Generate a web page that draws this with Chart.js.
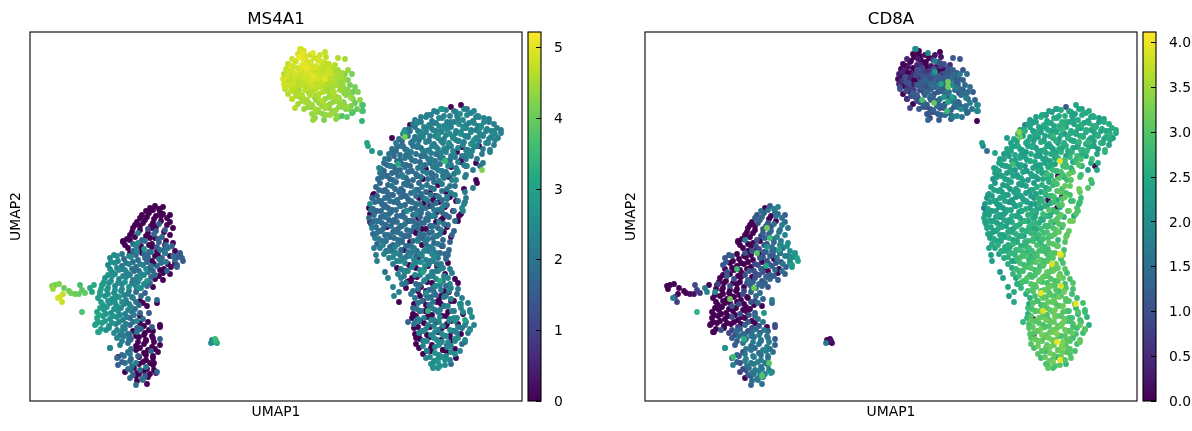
<!DOCTYPE html>
<html>
<head>
<meta charset="utf-8">
<script src="https://cdn.jsdelivr.net/npm/chart.js@4/dist/chart.umd.min.js"></script>
<style>
  html, body { margin: 0; padding: 0; background: #fff; }
  canvas { position: absolute; top: 0; }
</style>
</head>
<body>
<canvas id="panel-a" width="552" height="431" style="left:0"></canvas>
<canvas id="panel-b" width="552" height="431" style="left:615px"></canvas>
<canvas id="bar-a" width="60" height="431" style="left:525px"></canvas>
<canvas id="bar-b" width="52" height="431" style="left:1140px"></canvas>
<script>
// Embedding positions and expression, one cluster at a time
const topX = [
  270,274,
  268,275,283,290,295,
  262,269,276,284,290,296,
  258,265,272,279,286,293,299,305,
  256,263,270,277,284,291,298,305,318,
  254,261,268,276,283,290,297,304,312,
  253,260,267,274,281,288,295,303,310,318,
  254,261,268,275,282,289,296,303,311,320,
  255,262,269,276,283,290,297,304,311,318,325,
  258,265,272,279,286,293,300,307,314,321,328,
  262,270,277,285,292,299,306,313,321,330,
  268,275,282,289,296,303,310,317,325,333,
  274,281,288,295,302,309,316,323,332,
  282,289,296,303,312,322,
  285,294,306
];
const topY = [
  352,350,
  347,345,348,346,349,
  342,344,341,343,340,344,
  337,339,336,338,335,339,337,336,
  332,334,331,333,330,334,332,329,331,
  327,329,326,328,325,329,327,324,328,
  322,324,321,323,320,324,322,319,323,321,
  317,319,316,318,315,319,317,314,318,316,
  312,314,311,313,310,314,312,309,313,311,314,
  307,309,306,308,305,309,307,304,308,306,309,
  302,304,301,303,300,304,302,299,303,301,
  297,299,296,298,295,299,297,294,298,296,
  292,294,291,293,290,294,292,289,290,
  287,289,286,288,285,288,
  283,281,282
];
const topMs4a1 = [
  4.9,4.9,
  4.8,4.9,5,4.8,4.7,
  4.8,5.1,4.9,4.8,4.9,4.7,
  4.7,4.8,5,4.8,4.9,4.8,4.7,4.6,
  4.8,4.7,4.9,5.1,4.8,4.7,4.8,4.5,4.4,
  4.6,4.8,4.8,4.9,5,4.7,4.8,4.6,4.5,
  4.9,4.6,4.7,4.8,4.9,4.8,5,4.6,4.5,4.2,
  4.8,4.7,4.6,4.7,4.8,4.7,4.6,4.5,4.3,4.1,
  4.6,4.7,4.5,4.7,4.6,4.7,4.5,4.6,4.4,4.3,4.1,
  4.6,4.5,4.6,4.4,4.5,4.6,4.4,4.5,4.3,4.2,4.2,
  4.5,4.4,4.5,4.4,4.6,4.4,4.5,4.3,4.4,4.3,
  4.5,4.5,4.4,4.4,4.5,4.3,4.4,4.4,4,3.7,
  4.4,4.3,4.4,4.5,4.4,4.3,4.2,3.8,3.7,
  4.4,4.3,4.4,4.4,3.7,3.6,
  4.3,4.2,4.3
];
const topCd8a = [
  2,0,
  0,0,1.9,0.2,0,
  0.4,0,0,0,1.7,0.2,
  0,0,0.4,0,0.2,0.9,1,0.5,
  0,0.2,0,0.9,0.6,0.2,0,1,1.1,
  0.3,0,0.5,0.9,1,2.1,0.8,1.1,1.2,
  0.1,1,0,0.6,1.3,1,1.2,3.2,1.2,1.3,
  0.5,1,0.3,1.2,0.9,1.4,2.4,3.2,1.1,1.4,
  1,0.4,0.8,1.2,1,1.3,1,1.4,1.8,1.2,1.5,
  0,0.4,1.2,0.9,1.4,1.1,1.3,2.3,1.1,1.5,1.2,
  0.6,1.1,2.9,1.2,1,2.1,1.3,1.2,1.7,1.3,
  0,0.9,1.1,3.1,1.3,2.4,1.4,1.2,1.8,1.9,
  1.2,1,1.3,1,2.8,1.2,2,1.4,1.7,
  1.1,1,1.2,1.4,1.9,1.3,
  0.9,1.2,1.1
];
const topFillX = [
  272,280,288,
  266,273,281,288,295,
  261,268,275,282,289,296,303,
  258,265,272,280,287,294,301,308,
  257,264,271,278,285,292,299,307,314,
  257,264,271,278,285,292,299,306,313,
  258,265,272,279,286,293,300,307,315,
  261,268,275,282,289,296,303,310,317,
  266,273,280,288,295,302,309,316,323,
  272,279,286,293,300,307,314,321,
  278,285,292,299,306,313,320,
  286,293,300,307,317
];
const topFillY = [
  348,346,343,
  340,342,339,341,338,
  335,333,336,334,332,335,333,
  330,328,331,329,327,330,328,331,
  325,323,326,324,322,325,323,326,322,
  320,318,321,319,317,320,318,321,317,
  315,313,316,314,312,315,313,316,312,
  310,308,311,309,307,310,308,311,307,
  305,303,306,304,302,305,303,306,302,
  300,298,301,299,297,300,298,295,
  294,292,295,293,291,294,292,
  289,287,286,285,284
];
const topFillMs4a1 = [
  5,4.8,4.9,
  4.8,5,4.9,4.8,4.7,
  4.9,4.8,5,4.9,4.8,4.7,4.6,
  4.8,4.9,4.8,4.9,4.8,4.7,4.8,4.5,
  4.9,4.8,4.7,4.8,4.9,4.8,4.6,4.5,4.4,
  4.7,4.8,4.7,4.8,4.7,4.8,4.6,4.5,4.4,
  4.8,4.7,4.7,4.6,4.7,4.6,4.5,4.5,4.3,
  4.7,4.6,4.7,4.6,4.6,4.5,4.6,4.4,4.3,
  4.6,4.5,4.6,4.5,4.4,4.5,4.4,4.3,4.2,
  4.5,4.5,4.4,4.5,4.4,4.4,4.3,4.2,
  4.4,4.5,4.4,4.3,4.4,4.3,4.1,
  4.4,4.3,4.4,4.3,3.9
];
const topFillCd8a = [
  0,0.2,0,
  0,0.3,0,0.9,1,
  0,0,0.5,0,1.1,0.8,1,
  0.4,0,1,0.6,1.2,0,1.1,1.2,
  0,0.5,0.9,1.1,0.8,1.3,1.2,1.4,1.3,
  0.6,1,0,1.2,1.4,1,1.3,1.5,1.2,
  0,0.8,1.2,1,1.3,1.5,1.2,2,1.4,
  0.9,1.2,0.7,1.4,1.1,1.3,1.6,1.2,1.5,
  1,0.6,1.3,1.2,1.5,1.1,1.7,1.3,1.4,
  1.1,1.3,1,1.4,1.2,1.7,1.3,1.6,
  1.2,1,1.4,1.1,1.3,1.5,1.4,
  1,1.3,1.5,1.2,1.6
];

const bigX = [
  412,421,431,437,
  397,407,414,424,430,441,448,
  385,396,402,412,417,427,433,443,449,459,
  380,388,394,403,409,418,424,433,439,448,454,464,
  375,385,391,401,406,416,421,431,436,446,451,461,467,
  373,380,390,396,405,411,420,426,435,441,450,456,465,471,
  369,378,384,393,399,408,414,423,429,438,444,453,459,468,
  366,373,382,388,398,403,413,419,428,433,443,449,458,464,
  362,371,377,387,393,402,408,417,423,432,438,447,453,460,
  359,366,376,381,391,396,406,411,421,427,436,442,452,
  355,364,370,380,385,395,401,410,416,425,431,441,447,
  354,361,370,376,385,391,400,406,416,421,431,437,446,
  351,360,366,375,381,391,396,406,411,421,427,436,443,
  350,357,366,372,382,387,397,402,412,418,428,436,
  348,357,363,373,378,388,393,403,409,419,426,435,
  346,355,362,371,377,386,392,401,408,417,425,434,
  344,353,360,369,376,385,391,400,407,416,425,435,
  342,351,358,367,373,381,389,396,405,412,420,428,436,
  340,349,355,364,371,379,386,394,402,409,417,426,434,
  339,347,354,362,370,377,385,392,400,408,415,424,432,
  340,346,355,361,371,376,386,391,401,407,416,423,431,
  339,348,355,364,372,380,388,396,403,411,419,428,
  341,347,356,363,371,379,387,394,402,409,418,425,
  342,349,357,365,372,381,388,396,403,411,417,424,
  343,351,358,367,375,383,390,399,406,414,422,
  345,352,360,368,376,383,392,398,407,413,421,
  347,355,363,372,380,388,396,404,412,420,
  350,356,365,371,381,387,397,403,413,419,
  354,362,370,378,386,394,402,410,418,
  359,367,376,384,392,400,408,416,
  363,370,379,387,395,403,411,418,
  367,374,382,390,398,406,413,420,
  368,377,385,393,400,408,415,422,
  371,379,387,395,403,410,418,425,
  373,381,390,397,405,413,420,428,
  376,383,391,399,406,414,421,428,
  381,388,396,404,411,419,427,
  385,393,401,409,416,424,432,
  384,392,399,407,414,421,430,438,
  383,390,398,405,414,422,431,440,
  383,391,399,408,416,424,433,440,
  382,389,397,404,412,419,427,435,442,
  384,391,398,406,413,421,428,436,444,
  384,392,400,408,416,424,432,440,
  385,393,401,408,416,423,431,438,
  386,393,400,407,414,421,428,435,
  386,394,402,409,417,425,432,
  389,397,405,413,421,430,
  393,401,409,417,425,
  396,404,412,420,
  401,408,415,
  403,410
];
const bigY = [
  292,294,296,292,
  286,289,285,290,287,288,285,
  281,284,280,283,279,285,281,280,284,282,
  276,279,274,278,275,277,279,274,278,275,279,277,
  271,274,269,273,270,272,274,269,273,271,274,270,273,
  267,270,266,269,265,270,267,268,265,269,266,270,267,268,
  262,265,261,264,260,265,262,263,260,264,261,265,262,263,
  258,255,259,256,260,255,258,257,260,256,259,255,258,256,
  252,255,251,254,250,255,252,253,250,254,251,255,252,251,
  247,250,246,249,245,250,247,248,245,249,246,250,247,
  242,245,241,244,240,245,242,243,240,244,241,245,242,
  238,235,239,236,240,235,238,237,240,236,239,235,238,
  232,235,231,234,230,235,232,233,230,234,231,235,231,
  228,225,229,226,230,225,228,227,230,226,229,226,
  222,225,221,224,220,225,222,223,220,224,221,224,
  214,211,215,212,216,211,214,213,216,212,215,212,
  207,210,206,209,205,210,207,208,205,209,206,209,
  203,200,204,201,205,200,203,202,205,201,204,200,203,
  197,200,196,199,195,200,197,198,195,199,196,200,197,
  193,190,194,191,195,190,193,192,195,191,194,190,193,
  187,190,186,189,185,190,187,188,185,189,186,190,187,
  183,180,184,181,185,180,183,182,185,181,184,180,
  177,180,176,179,175,180,177,178,175,179,176,180,
  173,170,174,171,175,170,173,172,175,171,174,170,
  167,170,166,169,165,170,167,168,165,169,166,
  163,160,164,161,165,160,163,162,165,161,164,
  157,160,156,159,155,160,157,158,155,159,
  153,150,154,151,155,150,153,152,155,151,
  147,150,146,149,145,150,147,148,146,
  143,140,144,141,145,140,143,142,
  137,140,136,139,135,140,137,138,
  133,130,134,131,135,130,133,132,
  127,130,126,129,125,130,127,128,
  123,120,124,121,125,120,123,122,
  117,120,116,119,115,120,117,118,
  113,110,114,111,115,110,113,112,
  107,110,106,109,105,110,107,
  103,100,104,101,105,100,103,
  97,100,96,99,95,100,97,98,
  93,90,94,91,95,90,93,91,
  87,90,86,89,85,90,87,89,
  83,80,84,81,85,80,83,81,84,
  77,80,76,79,75,80,77,79,76,
  73,70,74,71,75,70,73,72,
  67,70,66,69,65,70,67,68,
  63,60,64,61,65,60,63,61,
  57,60,56,59,55,60,57,
  53,50,54,51,55,50,
  47,50,46,49,47,
  43,40,44,41,
  37,39,36,
  33,35
];
const bigMs4a1 = [
  2.2,0,0,2.1,
  2.3,2.1,2.4,2.2,2.5,2.2,2.3,
  2.1,2.3,2.2,2.4,2.2,2.3,2.5,2.2,2.4,2.2,
  0,2.2,2.3,2.1,2.4,2.3,2.2,2.5,2.3,2.2,2.4,2.3,
  2.2,2,2.4,2.3,2.2,2.5,2.2,2.3,2.4,2.2,2.5,2.3,2.2,
  2.1,2,2.3,2.2,2.4,2.3,2.5,2.2,2.3,2.4,2.2,2.3,2.4,2.2,
  2,2.1,2.2,2.3,2.1,2.6,2.2,2.4,2.3,2.2,2.5,2.3,2.2,2.3,
  2.1,1.9,2,2.2,2.1,2.3,2.2,2.5,2.2,2.3,2.4,0,2.3,2.2,
  1.9,2,2.1,1.9,2.2,2.1,2.3,2.2,2.4,0,2.3,2.2,2.1,2.2,
  2,1.8,2,2.1,1.9,2.2,2,2.3,2.1,0,2.2,2.3,2.2,
  2.1,1.8,1.9,2,2.1,2,2.2,2.1,2.2,2.1,0,2.2,2,
  1.8,2.1,1.9,1.8,2,2.1,1.9,2.2,2,2.1,0,2.4,0,
  1.9,1.7,1.8,2,1.9,2.1,0,2,2.3,0,2.1,0,2.2,
  2,1.8,1.7,2,1.9,1.8,2.2,0,1.9,2.1,2.4,2,
  1.8,1.7,1.9,2.2,1.8,1.9,0,1.8,2.1,0,2.4,2.2,
  1.7,1.8,2,1.7,1.9,1.8,2.2,1.9,0,2,1.9,0,
  0,1.7,1.8,1.9,1.7,2.1,1.8,0,1.9,0,2.3,2.2,
  1.7,1.8,1.6,2,1.7,1.9,0,2.3,0,1.8,0,2,2.2,
  2.6,1.7,1.8,1.7,2,1.8,1.9,0,1.7,0,1.8,0,2.3,
  0,1.6,1.8,1.7,1.9,2.5,1.7,1.8,0,1.9,0,2,2.4,
  0,1.7,1.9,1.8,1.6,1.7,2.3,1.8,1.7,0,1.8,0,0,
  1.8,1.6,2,1.7,1.8,1.9,0,1.7,2.3,0,1.8,0,
  1.7,2,1.8,1.6,1.9,0,1.7,1.8,1.7,2.4,1.8,2,
  2.2,1.8,0,1.7,1.9,1.8,1.7,0,1.9,2.1,0,1.7,
  1.7,1.9,2,1.7,1.8,0,1.9,1.7,2.1,0,1.8,
  2.1,1.8,1.7,1.9,1.6,1.8,1.7,2.1,1.8,1.7,0,
  1.7,2,1.6,1.8,1.9,2.2,1.8,1.7,0,1.6,
  2.2,1.8,2.3,1.7,2,1.9,2.3,2.2,1.8,1.7,
  2.3,1.9,2.2,2.1,1.7,2.3,2.4,1.8,1.7,
  2.2,2.3,2,2.4,2.3,2.2,2,1.7,
  2.2,2.4,0,2.3,2.4,2.2,2.1,0,
  0,2.3,2.1,2.4,0,2.2,2.3,2.2,
  2.4,0,2.4,3,2.2,2.1,0,2.2,
  2.3,0,0,2.4,2.3,3.1,2.4,0,
  2,0,1.8,0,2.3,2.2,2.4,0,
  0,2,0,1.8,2.4,0,2.2,2.1,
  2.1,0,1.9,2,0,2.3,1.8,
  2.1,0,1.8,0,2.2,0,2.3,
  0,1.9,2,0,2.2,0,2.4,2.3,
  1.8,0,0,2.1,0,2.3,2.4,2.3,
  0,2,0,2.2,0,2,0,2.5,
  0,2.2,0,2.3,0,2.2,2.3,3.1,2.4,
  1.9,0,2.3,0,2.4,0,0,2.1,2.4,
  0,2.3,0,2.4,0,2.3,2,1.9,
  0,2.2,2.4,0,2.4,0,0,2,
  0,2.3,0,2.3,2.4,0,2.5,2.4,
  0,2.4,0,2.5,0,2.4,1.9,
  0,0,2.4,0,2.3,2.4,
  0,0,2.4,0,2.5,
  2.4,2.5,2.6,2.3,
  2.5,2.7,2.5,
  2.4,2.6
];
const bigCd8a = [
  2.4,1.1,2.4,2.3,
  2.4,2.3,2.5,2.4,2.3,2.5,2.4,
  2.3,2.5,2.4,2.5,2.6,2.4,2.5,2.3,2.5,2.4,
  1.6,2.2,2.4,2.5,2.4,2.6,2.4,2.5,2.4,2.6,2.3,2.5,
  2.3,2.4,2.5,2.4,2.3,2.6,2.4,2.5,2.3,2.4,2.6,2.4,2.5,
  2.3,2.6,2.4,2.3,2.5,2.4,2.3,2.5,2.6,2.4,2.5,2.3,2.6,2.4,
  2.4,2.3,2.5,2.2,2.4,2.7,2.3,2.5,2.4,2.6,2.4,2.5,2.4,2.3,
  2.3,2.5,2.4,2.3,2.2,2.4,2.3,2.6,2.5,2.4,2.7,2.3,2.5,2.4,
  2.4,2.2,2.3,2.5,2.4,2.3,2.2,2.4,2.5,2.4,2.6,2.4,2.3,2.7,
  2.2,2.4,2.3,2.2,2.4,2.3,2.5,2.4,2.3,2.6,2.5,2.7,2.4,
  2.3,2.2,2.4,2.3,2.5,2.2,2.4,2.3,2.5,2.7,2.6,2.4,2.8,
  2.4,2.3,2.2,2.4,2.3,2.2,2.4,2.5,2.3,2.7,2.8,2.6,2.5,
  2.2,2.4,2.3,2.2,2.1,2.3,2.4,2.2,2.8,2.9,2.6,2.7,2.4,
  2.3,2.2,2.4,2.3,2.2,2.4,2.3,2.8,2.5,2.9,3,2.8,
  2.2,2.4,2.3,2.1,2.3,2.4,2.2,2.5,2.9,2.4,3,2.9,
  2.4,2.2,2.3,2.4,2.2,2.3,2.6,2.4,2.7,2.9,3.1,3.2,
  2.3,2.4,2.2,2.3,2.4,2.2,2.3,2.7,2.4,3,2.9,3.1,
  2.1,2.3,2.4,2.2,2.3,2.4,2.2,2.5,2.8,2.4,3.1,2.9,2.8,
  2.2,2.4,2.3,2.1,2.3,2.4,2.2,2.6,2.4,2.8,3,2.7,2.6,
  1.6,2.3,2.2,2.4,2.3,2.5,2.3,2.4,2.6,2.8,2.4,3.1,2.9,
  2.3,2.2,2.4,2.3,2.4,2.3,2.6,2.4,2.7,2.5,3.1,2.9,3,
  2.4,2.3,2.2,2.4,2.3,2.7,2.4,2.6,2.5,3,2.7,3.2,
  2.3,2.4,2.2,2.3,2.6,2.4,2.7,2.5,2.8,2.4,3,3.2,
  2.4,2.3,2.5,2.4,2.3,2.6,2.4,2.8,2.5,3,2.7,3.1,
  2.4,2.3,2.4,2.5,2.4,2.6,2.7,2.8,2.7,3.1,2.9,
  2.3,2.4,2.3,2.4,2.6,2.7,2.5,2.8,3,2.7,3.1,
  2.5,2.4,2.6,2.5,2.7,2.8,2.7,3,2.8,3,
  2.4,2.6,2.4,2.7,2.6,2.8,2.9,2.8,3.1,2.9,
  2.3,2.5,2.7,2.8,2.6,2.9,2.8,3,3.1,
  2.5,2.4,2.8,2.7,2.9,2.8,3,2.9,
  2.6,2.4,2.8,2.9,2.8,3,3.1,2.9,
  2.5,2.7,2.9,2.8,3,2.9,3.1,3,
  2.7,2.9,2.8,3,2.9,3.1,3,2.8,
  2.4,2.8,2.9,3,3,2.9,3.1,2.9,
  2.6,2.8,3,2.9,3.1,3,2.8,3,
  2.7,2.9,3,3.1,3,2.8,3,2.9,
  2.5,2.9,3.1,3,2.9,3,2.8,
  2.6,2.9,3,3.1,2.9,3,2.8,
  2.5,2.8,3,3.1,2.9,3,2.8,2.9,
  2.8,3,2.9,3.1,3,2.9,2.7,2.8,
  2.5,2.9,3,3.1,3,2.9,2.6,2.8,
  2.7,3,3.1,2.9,3,3.2,2.8,2.9,2.7,
  2.8,3,2.9,3.1,3,2.7,2.9,2.8,2.6,
  3,3.1,2.9,3,3.2,2.9,2.8,3,
  3,2.9,3.1,3.2,2.8,3,2.9,2.8,
  3,3.1,3,3.2,2.9,3,2.8,3,
  3,3.2,3.1,2.9,3.1,3,2.9,
  2.9,3,3.2,2.8,3,2.9,
  3,2.7,3.1,3.2,3,
  2.8,3.1,2.6,3,
  2.9,3.2,3,
  3.1,2.9
];
const bigFillX = [
  404,416,426,434,444,
  391,400,409,420,428,437,446,454,
  383,391,399,406,414,421,429,436,444,451,459,
  379,388,396,403,411,418,426,434,441,449,457,464,
  376,385,393,400,408,416,423,431,438,446,453,461,
  372,381,389,396,404,411,419,426,434,441,449,456,
  367,375,383,391,399,406,414,421,428,436,444,
  362,370,378,386,393,401,409,416,424,432,440,
  359,367,375,382,390,398,405,413,420,428,436,
  357,364,372,380,388,395,403,410,418,426,434,
  354,362,370,378,386,393,401,408,416,424,
  352,360,368,376,383,391,398,406,414,422,
  350,358,366,374,381,389,397,404,412,420,
  349,357,365,373,381,388,396,404,412,421,
  347,355,363,371,378,386,393,401,409,417,
  345,352,360,368,375,382,390,398,406,414,
  343,351,358,366,374,381,389,396,404,412,
  344,351,359,367,375,383,390,398,405,413,
  344,352,359,367,375,383,391,398,406,414,
  346,353,361,369,377,384,392,400,408,
  347,355,363,371,379,386,394,402,410,
  349,356,364,372,380,388,395,403,
  353,360,368,376,384,392,400,408,
  358,366,374,382,390,398,406,
  363,372,380,388,396,404,
  375,383,391,399,407,
  371,378,386,394,402,410,
  374,382,390,398,406,414,
  377,386,394,402,410,
  388,396,403,411,419,
  390,398,406,414,421,
  388,396,403,411,418,
  387,395,402,410,418,
  386,394,402,410,420,
  386,394,401,409,417,425,
  388,396,404,412,420,428,
  389,397,405,412,420,427,
  390,397,404,411,418,425,
  393,401,409,417,425,
  397,405,413,421,
  400,408,416
];
const bigFillY = [
  290,291,289,292,290,
  284,286,283,285,282,286,284,283,
  277,279,276,278,275,279,277,276,278,275,279,
  272,270,273,271,269,272,270,273,271,269,272,270,
  266,264,267,265,263,266,264,267,265,263,266,264,
  260,258,261,259,257,260,258,261,259,257,260,258,
  254,252,255,253,251,254,252,255,253,251,254,
  248,246,249,247,245,248,246,249,247,245,248,
  242,240,243,241,239,242,240,243,241,239,242,
  236,234,237,235,233,236,234,237,235,233,236,
  230,228,231,229,227,230,228,231,229,227,
  224,222,225,223,221,224,222,225,223,221,
  218,216,219,217,215,218,216,219,217,215,
  211,209,212,210,208,211,209,212,210,208,
  205,203,206,204,202,205,203,206,204,202,
  199,197,200,198,196,199,197,200,198,196,
  192,190,193,191,189,192,190,193,191,189,
  186,184,187,185,183,186,184,187,185,183,
  180,178,181,179,177,180,178,181,179,177,
  174,172,175,173,171,174,172,175,173,
  168,166,169,167,165,168,166,169,167,
  162,160,163,161,159,162,160,163,
  156,154,157,155,153,156,154,157,
  150,148,151,149,147,150,148,
  144,142,145,143,141,144,
  138,136,139,137,135,
  132,130,133,131,129,132,
  125,123,126,124,122,125,
  119,117,120,118,116,
  112,110,113,111,109,
  105,103,106,104,102,
  98,96,99,97,95,
  92,90,93,91,89,
  85,83,86,84,82,
  80,78,81,79,77,80,
  74,72,75,73,71,74,
  68,66,69,67,65,68,
  62,60,63,61,59,62,
  55,53,56,54,52,
  50,48,51,49,
  44,42,45
];
const bigFillMs4a1 = [
  2.3,2.4,2.2,2.3,2.4,
  2.2,2.3,2.4,2.2,2.3,2.4,2.2,2.3,
  2.1,2.2,2.3,2.2,2.4,2.3,2.5,2.2,2.4,2.3,2.2,
  2,2.1,2.2,2.3,2.2,2.4,2.3,2.4,2.2,2.5,2.3,2.4,
  1.9,2,2.2,2.1,2.3,2.4,2.2,2.5,2.3,2.4,2.2,2.3,
  1.8,2,1.9,2.2,2.1,2.3,2.4,2.2,2.3,2.5,2.2,2.4,
  1.9,1.8,2,1.9,2.2,2.1,2.3,2.2,2.4,2.2,2.3,
  1.8,1.9,1.7,2,1.9,2.2,2,2.3,2.2,2.1,2.4,
  1.7,1.8,2,1.9,1.7,2.1,2,2.2,1.9,2.3,2.1,
  1.8,1.7,1.9,1.8,2,1.9,2.2,2,2.3,2.2,2.1,
  1.7,1.8,1.7,1.9,1.8,2,1.9,2.2,2,2.1,
  1.8,1.7,1.9,1.7,1.8,2,1.9,2.1,2.2,2.3,
  1.7,1.8,1.7,1.9,1.7,1.8,2,1.9,2.1,2,
  1.8,1.7,1.8,1.7,1.9,1.8,1.7,2,1.9,2.2,
  1.7,1.9,1.7,1.8,1.7,1.9,1.8,2,2.1,1.9,
  1.8,1.7,1.9,1.8,1.7,1.8,2,1.9,1.8,2.1,
  1.7,1.8,1.7,1.9,1.7,1.8,1.9,2,2.1,1.8,
  1.9,1.7,1.8,1.7,1.9,1.8,1.7,2,1.8,0,
  1.8,1.9,1.7,1.8,2,1.7,1.9,1.8,0,1.9,
  1.8,1.7,1.9,1.7,1.8,1.9,0,1.8,1.7,
  2,1.8,1.7,1.9,1.7,0,1.8,1.9,2,
  2.2,1.9,1.8,1.7,0,1.9,2.1,1.8,
  2.3,1.8,2.1,1.9,2.2,0,2,2.1,
  2.2,2.3,0,2.1,2.3,2,2.2,
  2.4,2.2,2.3,0,2.2,2.4,
  2.4,2.3,2.5,2.2,0,
  2.2,2.4,0,2.3,2.1,2.4,
  2.1,0,2.3,1.9,2.4,2.2,
  0,1.8,2.1,0,2.2,
  2,0,1.9,2.1,0,
  0,2.1,1.8,2.2,2.3,
  1.9,0,2.1,0,2.3,
  2,0,2.2,2.1,0,
  0,2.2,0,2.3,2.4,
  2.1,0,2.4,2.3,0,2.4,
  0,2.3,2.4,0,2.5,2.3,
  2.3,0,2.4,2.5,0,2.2,
  0,2.4,2.5,0,2.4,2.3,
  2.3,0,2.5,2.4,0,
  2.4,2.6,0,2.5,
  2.4,2.5,2.4
];
const bigFillCd8a = [
  2.4,2.5,2.3,2.4,2.5,
  2.3,2.4,2.5,2.6,2.4,2.5,2.4,2.3,
  2.4,2.3,2.5,2.4,2.6,2.5,2.4,2.6,2.5,2.4,2.5,
  2.4,2.3,2.4,2.5,2.4,2.7,2.5,2.4,2.6,2.4,2.5,2.4,
  2.3,2.4,2.5,2.4,2.3,2.5,2.6,2.4,2.5,2.4,2.6,2.5,
  2.3,2.4,2.3,2.5,2.4,2.6,2.4,2.5,2.7,2.5,2.4,2.6,
  2.4,2.3,2.4,2.2,2.5,2.4,2.5,2.6,2.4,2.7,2.5,
  2.3,2.4,2.3,2.5,2.3,2.4,2.5,2.6,2.4,2.8,2.6,
  2.4,2.3,2.4,2.3,2.5,2.4,2.3,2.6,2.8,2.5,2.9,
  2.3,2.4,2.3,2.2,2.4,2.3,2.5,2.4,2.9,2.7,3,
  2.4,2.3,2.2,2.4,2.3,2.5,2.4,2.8,2.9,3.1,
  2.3,2.4,2.3,2.4,2.2,2.3,2.5,2.6,3,2.8,
  2.2,2.3,2.4,2.3,2.4,2.2,2.6,2.5,2.9,3.1,
  2.4,2.3,2.2,2.4,2.3,2.5,2.4,2.7,3,2.9,
  2.3,2.4,2.3,2.2,2.4,2.3,2.6,2.5,2.9,3,
  2.3,2.2,2.4,2.3,2.5,2.4,2.3,2.7,2.6,2.9,
  2.4,2.3,2.2,2.4,2.3,2.5,2.6,2.4,3,2.8,
  2.3,2.4,2.3,2.5,2.4,2.6,2.4,2.8,2.6,3,
  2.4,2.3,2.4,2.5,2.6,2.4,2.7,2.5,2.9,3,
  2.4,2.5,2.3,2.4,2.6,2.7,2.5,2.8,2.9,
  2.3,2.4,2.5,2.6,2.4,2.7,2.8,2.9,3,
  2.5,2.4,2.6,2.5,2.7,2.8,2.7,2.9,
  2.6,2.5,2.7,2.6,2.8,2.9,2.8,3,
  2.5,2.7,2.8,2.7,2.9,2.8,3,
  2.6,2.8,2.9,2.8,3,2.9,
  2.9,2.8,3,2.9,3.1,
  2.8,2.9,3,2.9,3.1,3,
  2.8,3,2.9,3.1,3,3.2,
  2.9,3,3.1,2.9,3,
  3,2.9,3.1,3,3.2,
  2.9,3.1,3,3.2,3,
  3,2.9,3.1,3,3.2,
  2.9,3.1,3,3.2,3,
  3,3.1,2.9,3.2,3,
  3.1,3,3.2,3.1,3,2.9,
  3.1,3.2,3,3.1,3.2,2.9,
  3,3.2,3.1,3.3,3,3.1,
  3.1,3,3.2,3.1,3.3,3,
  3.2,3,3.1,3.3,3,
  3,3.2,3.1,3,
  3.1,3,3.2
];
// loose cells along the rim of the big cluster
const bigEdgeX = [435,433,429,443,447,446,453,460,465,471,440,435,433,430,424,435,426,421,369,378,364,369,363,372,376,358,355,347,346,344,408,403,340,343,341];
const bigEdgeY = [199,190,185,213,218,221,238,249,261,271,71,76,89,97,83,59,43,37,99,79,105,109,114,117,118,123,129,140,146,153,33,35,179,206,191];
const bigEdgeMs4a1 = [2,2.3,0,2.2,0,0,2.1,2.3,2.3,2.2,2.6,2.3,2.4,2.5,2.5,1.9,0,1.8,0,1.7,2.3,2.2,2.3,2.1,2,2.3,1.9,2.2,2.1,2.1,2.5,2.6,0,0,1.9];
const bigEdgeCd8a = [2.8,3,2.4,3,2.7,2.9,2.5,2.6,2.5,2.5,3,3.1,3,3.2,2.9,3.1,3,2.7,2.5,2.7,2.3,2.5,2.4,2.6,2.5,2.3,2.2,2.3,2.3,2.4,2.9,2.8,2.3,2.2,1.8];

const leftX = [
  120,125,129,133,
  112,119,126,133,140,
  107,115,123,131,140,
  103,110,118,126,135,143,
  100,108,116,124,132,140,
  93,100,108,115,122,129,136,143,
  98,106,114,122,130,138,145,
  100,107,114,121,128,135,143,150,
  80,87,94,101,108,115,122,129,136,145,153,
  78,85,92,99,106,113,120,127,134,141,147,
  82,89,97,104,111,118,125,133,140,
  75,82,89,96,103,110,117,125,133,
  72,79,85,92,99,105,111,117,123,
  70,77,84,91,98,106,115,
  68,75,82,89,96,103,110,118,127,
  73,80,87,94,101,109,117,
  67,74,81,88,95,102,110,
  67,73,80,87,93,100,107,113,
  65,72,79,86,93,100,107,114,122,130,
  68,76,84,92,100,107,115,123,
  87,94,101,109,116,123,130,
  90,98,106,114,122,130,
  80,98,106,114,121,128,
  87,94,101,109,116,123,
  88,95,102,109,116,123,
  95,101,107,114,120,127,
  100,106,112,118,
  106,117
];
const leftY = [
  193,195,192,194,
  186,188,185,187,186,
  179,181,178,180,179,
  173,175,172,174,171,173,
  166,168,165,167,164,166,
  159,161,158,160,157,159,156,158,
  153,155,152,154,151,153,150,
  148,150,147,149,146,148,145,147,
  143,145,142,144,141,143,140,142,139,141,140,
  136,138,135,137,134,136,133,135,132,134,136,
  129,131,128,130,127,129,126,128,127,
  123,125,122,124,121,123,120,122,121,
  116,118,115,117,114,116,113,115,114,
  109,111,108,110,107,109,108,
  103,105,102,104,101,103,100,102,101,
  96,98,95,97,94,96,95,
  89,91,88,90,87,89,88,
  83,85,82,84,81,83,80,82,
  76,78,75,77,74,76,73,75,74,76,
  69,71,68,70,67,69,68,70,
  63,65,62,64,61,63,62,
  56,58,55,57,54,56,
  53,49,51,48,50,49,
  43,45,42,44,41,43,
  36,38,35,37,34,36,
  29,31,28,30,27,29,
  23,25,22,24,
  16,17
];
const leftMs4a1 = [
  0,0,0,0,
  0,0,0,0,0,
  0,0,0,0,0,
  0,0,1.2,0,1.4,0,
  0,2.2,0,1.8,1.7,0,
  0,0,2.4,1.9,0,1.6,1.7,0,
  0,2.3,2.7,0,1.8,1.9,0,
  0,2.4,1.7,1.9,0,2.2,1.9,1.5,
  2.3,2.6,1.8,2.5,1.7,1.8,0,1.9,2.1,1.8,1.5,
  2.4,2.5,1.9,2.3,1.8,2.1,0,1.7,0,0,1.4,
  2.3,2.5,2.2,1.8,2.4,2,1.8,0,0,
  2.5,2.6,2.4,2.3,2.1,2.5,2.6,0,0,
  2.7,2.5,2.4,2.3,2.6,2.4,2.5,1.9,0,
  2.9,2.6,2.4,2.5,2.3,1.8,1.7,
  2.8,2.6,2.5,2.7,2.3,2.2,0,2.1,1.8,
  2.7,2.5,2.6,2.3,2.4,1.8,0,
  3,2.8,2.6,2.5,2.3,2,1.7,
  3,2.8,2.7,2.6,2.2,1.7,2.4,1.9,
  2.8,2.9,2.5,2.3,2.2,1.8,1.7,0,1.5,0,
  2.9,2.6,2.5,2.3,1.9,2,0,0,
  2.3,2.1,1.8,0,0,0,1.5,
  2.2,1.9,0,0,0,0,
  2.4,1.8,0,0,1.6,0,
  1.8,2,1.6,0,0,0,
  1.6,1.9,2,0,2.1,0,
  0,1.7,0,0,0,1.7,
  1.8,0,1.9,0,
  2,0
];
const leftCd8a = [
  0,1.2,1.7,1.8,
  1,1.3,0,1.5,1.2,
  0,1.3,1.1,0,1.4,
  0,0,1.2,1,1.4,1.6,
  0,0,0.9,1.2,1.8,1.9,
  0,1.8,0,0,1.1,1.3,1.9,2,
  0,0,0.9,2.1,1.2,1.5,2,
  1,1.1,0,1.3,1.1,0,1.5,2.2,
  1,1.2,0,0,0,1.2,1.1,0,1.1,1.9,2.3,
  1.1,0,0,0,0,0.9,0,1.2,0,1.2,2.2,
  1,0,0,1.1,1,1,1.2,0,1.3,
  0,1.2,1,0,1.3,0.9,1.1,1.4,1.2,
  0,0,1,0,0,1.2,1.4,1.3,1,
  2,0,0,0,1,1.3,1.5,
  0,0,0,0,0,0,1,1.3,1.7,
  0,0,1.1,0.9,0,0,0,
  0,0,0,0,1,0,1.2,
  0,0,0,1,0,0,0,1.6,
  0,0,0,0,0.8,1.2,1,1.1,0,1,
  0,1.1,0.9,1.4,1.2,1.5,1.1,1.3,
  1.2,1.5,1.3,1.5,1.6,1.6,1.2,
  1.2,1.6,1.4,1.6,1.7,1.3,
  1.7,0.9,1.6,1.4,1.8,1.5,
  1.1,1,1.8,1.6,1.7,1.5,
  1.8,0.9,1.5,1.7,1.6,1.7,
  0.8,1,1.6,1.8,1.9,1.6,
  0,1.1,1.5,1.7,
  1.3,1.6
];
const leftFillX = [
  116,123,130,
  110,117,124,131,137,
  105,113,121,129,137,
  102,110,118,126,134,
  97,105,112,120,128,136,
  95,103,111,119,127,135,142,
  103,111,119,127,135,146,
  84,92,99,106,118,125,132,140,148,
  81,88,96,103,110,117,124,131,138,145,
  80,87,95,102,109,116,123,130,137,
  78,85,93,100,107,114,121,129,
  74,81,88,95,102,108,114,120,
  71,78,85,92,99,107,
  70,78,86,94,102,111,
  71,78,85,92,99,106,113,
  70,77,84,91,98,105,
  69,76,83,90,97,104,110,
  68,75,82,89,96,103,110,118,
  71,79,87,95,103,111,119,
  90,98,106,114,122,
  92,100,108,116,124,
  101,110,118,125,
  92,100,108,116,123,
  92,100,106,113,120,
  98,104,110,117,124,
  103,109,115,
  107,113
];
const leftFillY = [
  190,191,189,
  183,184,182,185,183,
  176,178,175,177,176,
  169,171,168,170,169,
  162,164,161,163,162,160,
  156,157,155,156,154,156,155,
  150,151,149,150,148,144,
  146,147,145,146,144,145,143,145,144,
  139,140,138,139,137,139,137,138,137,138,
  132,133,131,132,130,132,130,131,130,
  126,127,125,126,124,126,124,125,
  119,120,118,119,118,119,117,118,
  112,113,111,112,110,112,
  106,107,105,106,104,105,
  99,100,98,99,97,99,98,
  93,94,92,93,91,92,
  86,87,85,86,84,86,85,
  79,80,78,79,77,79,78,79,
  72,73,71,72,70,72,71,
  66,67,65,66,65,
  60,61,59,60,59,
  52,53,51,52,
  46,47,45,46,45,
  39,40,38,39,38,
  32,33,31,32,31,
  26,27,25,
  20,21
];
const leftFillMs4a1 = [
  0,0,0,
  0,0,0,0,0,
  0,0,0,1.5,0,
  0,0,0,1.4,0,
  0,0,1.6,0,1.5,0,
  0,1.8,0,0,1.5,0,1.6,
  1.8,0,1.7,0,1.9,1.4,
  2.5,2,2.4,1.9,1.7,0,1.8,0,1.5,
  2.6,2.4,2.1,1.9,2.3,1.7,0,1.9,0,0,
  2.5,2.3,2.4,2,1.9,2.5,1.8,0,1.6,
  2.7,2.5,2.4,2.3,2.2,2.4,1.8,0,
  2.8,2.6,2.5,2.7,2.2,2.3,2.4,1.7,
  2.9,2.7,2.5,2.4,2.2,1.9,
  2.8,2.7,2.6,2.3,2.1,1.8,
  2.9,2.7,2.6,2.5,2.2,2,0,
  3,2.8,2.6,2.4,2.3,2,
  3.1,2.8,2.7,2.5,2.2,2.1,0,
  3,2.8,2.7,2.4,2.3,2,0,0,
  2.8,2.6,2.4,2.3,0,1.7,0,
  2.1,1.9,0,0,0,
  2.2,1.8,0,0,0,
  2,0,0,0,
  1.7,2.1,1.6,0,0,
  1.6,1.8,2.2,0,0,
  1.9,0,1.8,0,0,
  1.7,0,1.6,
  0,1.9
];
const leftFillCd8a = [
  1.5,1.6,1.4,
  1.2,1.4,0,1.6,1.5,
  0,1,1.3,1.5,1.7,
  0,0,1.2,1.4,1.6,
  0,0,1,1.3,1.5,1.7,
  0,0,0.9,1.2,1.5,1.7,2,
  0,0,1.1,1.4,1.6,2,
  1.1,0,0,0,1,1.2,1.5,1.7,2,
  1.2,0,0,0,0.9,0,1.3,1.1,1.6,1.9,
  0,0,0,0,1,1.2,0,1.4,1.5,
  0,0,0,0.9,0,1.1,1.3,1.2,
  0,0,0,0,1,1.2,1.4,1.3,
  0,0,0,0,0.8,1.2,
  0,0,0,0,0,1.4,
  0,0,0,0,0,1,1.5,
  0,0,0,0,0,0,
  0,0,0,0,0,1,1.4,
  0,0,0,0,0,1.1,0,1.6,
  0,0,0.9,1.2,1,1.4,1.7,
  1,1.5,1.6,1.7,1.6,
  1.2,1.6,1.7,1.5,1.7,
  1.6,1.5,1.8,1.6,
  1.4,1.6,1.8,1.5,1.6,
  1.3,1.7,1.6,1.8,1.6,
  1,1.5,1.7,1.6,1.8,
  1.2,1.6,1.7,
  1.5,1.7
];
// loose cells along the rim of the left cluster and of the top blob
const rimX = [152,147,150,127,119,130,80,69,66,126,93,271,315,308,322,315,323,332,333,332,327,255,262,265,308,283];
const rimY = [143,134,148,98,88,74,53,69,77,28,160,352,342,343,327,327,309,296,290,280,292,314,302,293,284,281];
const rimMs4a1 = [1.6,1.6,1.5,0,1.5,0,2.3,3,3,0,0,4.9,4.5,4.6,4.1,4.2,4,3.7,3.5,3.4,4,4.8,4.7,4.6,3.7,4.4];
const rimCd8a = [2.3,2.1,2.2,1.4,2.2,0.9,2.1,0,0,2.1,0,2,1.1,1.2,1.5,1.7,1.5,1.8,2,0,1.6,0.9,0,0.8,1.8,1.4];

const tailX = [22,25,29,23,34,33,28,32,30,39,45,41,50,52,49,55,60,64,62,73,52];
const tailY = [115,116,117,112,113,107,103,99,104,110,107,108,116,111,107,108,113,116,109,117,89];
const tailMs4a1 = [4.2,4.1,4.2,4.4,4,4.7,4.9,4.8,4.8,4,4,4.1,3.6,3.8,4,3.9,3.2,3.2,3.1,2.9,3.7];
const tailCd8a = [0,0,0,0,0,0,1.8,0.8,0.6,0,0.1,0,0.9,0.8,0.2,0.7,1.7,0,1.8,0.8,2.7];

// the small island and the stragglers between the blob and the big cluster
const restX = [182,185,187,181,183,186,337,338,342,350,349,362,374,375,384,387,401,411];
const restY = [61,62,58,58,59,60,258,255,250,248,233,263,269,264,276,278,286,292];
const restMs4a1 = [2.3,3.5,3,2.5,2.6,3.4,3,3,2.7,2.5,2.4,0,2.8,4.1,0,2.4,2.2,2.8];
const restCd8a = [0,0,0,1.6,0,0.2,2.2,1.9,1.5,2.4,2.3,2.2,3.4,3.2,2.4,2.3,1.2,1.6];

// single cells that stand out in one gene
const spotX = [452,415,368,415,416,407,416,396,431,398,412,415,388,389,352,413,412,403,417,450,367,122,125,112,134,92,121,109,85,88,124,117,99];
const spotY = [231,240,237,147,146,137,115,108,97,90,59,41,82,67,225,225,193,201,204,235,170,173,163,148,151,132,135,113,102,44,38,25,62];
const spotMs4a1 = [4.2,3.5,3.2,1.7,1.8,2,1.8,2.6,2.3,3.3,2.4,2.5,2.2,0,1.9,2,2.2,0,2.2,2,1.9,0,0,0,1.8,2.2,2,2.6,2.6,0,0,0,1.9];
const spotCd8a = [2.4,4,2.8,4,3.8,3.9,3.9,4,4,3.9,4,4,0,0,0,0,0,0,0,0,0,3.2,2.8,3,2.4,2.8,2.5,3.2,3.2,2.8,3,3,2.6];

const umapX = [...topX, ...topFillX, ...bigX, ...bigFillX, ...bigEdgeX, ...leftX, ...leftFillX, ...rimX, ...tailX, ...restX, ...spotX];
const umapY = [...topY, ...topFillY, ...bigY, ...bigFillY, ...bigEdgeY, ...leftY, ...leftFillY, ...rimY, ...tailY, ...restY, ...spotY];
const ms4a1 = [...topMs4a1, ...topFillMs4a1, ...bigMs4a1, ...bigFillMs4a1, ...bigEdgeMs4a1, ...leftMs4a1, ...leftFillMs4a1, ...rimMs4a1, ...tailMs4a1, ...restMs4a1, ...spotMs4a1];
const cd8a = [...topCd8a, ...topFillCd8a, ...bigCd8a, ...bigFillCd8a, ...bigEdgeCd8a, ...leftCd8a, ...leftFillCd8a, ...rimCd8a, ...tailCd8a, ...restCd8a, ...spotCd8a];

const ms4a1Ticks = [0, 1, 2, 3, 4, 5];
const cd8aTicks = [0, 0.5, 1, 1.5, 2, 2.5, 3, 3.5, 4];
const ms4a1Max = 5.21;
const cd8aMax = 4.11;

const VIRIDIS = ["#440154", "#482475", "#414487", "#355f8d", "#2a788e", "#21918c", "#22a884", "#44bf70", "#7ad151", "#bddf26", "#fde725"];
const FONT = "'DejaVu Sans', sans-serif";
const INK = "#000";

function viridis(t) {
  const p = Math.max(0, Math.min(1, t)) * (VIRIDIS.length - 1);
  const i = Math.min(Math.floor(p), VIRIDIS.length - 2);
  const a = parseInt(VIRIDIS[i].slice(1), 16), b = parseInt(VIRIDIS[i + 1].slice(1), 16);
  const mix = s => Math.round(((a >> s) & 255) * (1 - (p - i)) + ((b >> s) & 255) * (p - i));
  return `rgb(${mix(16)},${mix(8)},${mix(0)})`;
}

// frame around the plot area, matplotlib style
const frame = {
  id: "frame",
  afterDraw(chart) {
    const { ctx, chartArea: a } = chart;
    ctx.save();
    ctx.strokeStyle = INK;
    ctx.lineWidth = 1.1;
    ctx.strokeRect(a.left, a.top, a.right - a.left, a.bottom - a.top);
    ctx.restore();
  }
};

// colorbar ticks point inwards
const innerTicks = {
  id: "innerTicks",
  afterDraw(chart) {
    const { ctx, chartArea: a, scales } = chart;
    ctx.save();
    ctx.strokeStyle = INK;
    ctx.lineWidth = 1;
    scales.y.ticks.forEach(t => {
      const y = Math.round(scales.y.getPixelForValue(t.value)) + 0.5;
      ctx.beginPath();
      ctx.moveTo(a.right - 5, y);
      ctx.lineTo(a.right, y);
      ctx.stroke();
    });
    ctx.restore();
  }
};

function drawPanel(id, title, values, vmax) {
  // highest values go on top, as in the original
  const order = umapX.map((_, i) => i).sort((p, q) => values[p] - values[q]);
  new Chart(document.getElementById(id), {
    type: "scatter",
    data: {
      datasets: [{
        data: order.map(i => ({ x: umapX[i], y: umapY[i] })),
        pointBackgroundColor: order.map(i => viridis(values[i] / vmax)),
        pointBorderWidth: 0,
        pointRadius: 2.9,
      }]
    },
    options: {
      responsive: false,
      animation: false,
      devicePixelRatio: 1,
      layout: { padding: { right: 30 } },
      plugins: {
        legend: { display: false },
        tooltip: { enabled: false },
        title: {
          display: true,
          fullSize: false,
          text: title,
          color: INK,
          font: { family: FONT, size: 16.67, weight: "normal" },
          padding: { top: 10, bottom: 2 },
        },
      },
      scales: {
        x: {
          min: 0, max: 492,
          grid: { display: false },
          border: { display: false },
          ticks: { display: false },
          title: { display: true, text: "UMAP1", color: INK, font: { family: FONT, size: 13.9 }, padding: { top: 3, bottom: 10 } },
          afterFit(s) { s.height = 30; },
        },
        y: {
          min: 0, max: 369,
          grid: { display: false },
          border: { display: false },
          ticks: { display: false },
          title: { display: true, text: "UMAP2", color: INK, font: { family: FONT, size: 13.9 }, padding: { top: 8, bottom: 4 } },
          afterFit(s) { s.width = 30; },
        },
      },
    },
    plugins: [frame],
  });
}

function drawColorbar(id, tickValues, vmax, decimals, axisWidth) {
  new Chart(document.getElementById(id), {
    type: "bar",
    data: {
      labels: [""],
      datasets: [{
        data: [[0, vmax]],
        barPercentage: 1,
        categoryPercentage: 1,
        backgroundColor(ctx) {
          const a = ctx.chart.chartArea;
          if (!a) return VIRIDIS[0];
          const g = ctx.chart.ctx.createLinearGradient(0, a.bottom, 0, a.top);
          VIRIDIS.forEach((c, i) => g.addColorStop(i / (VIRIDIS.length - 1), c));
          return g;
        },
      }]
    },
    options: {
      responsive: false,
      animation: false,
      devicePixelRatio: 1,
      layout: { padding: { left: 3, top: 32, bottom: 30 } },
      plugins: { legend: { display: false }, tooltip: { enabled: false } },
      scales: {
        x: { display: false },
        y: {
          position: "right",
          min: 0, max: vmax,
          grid: { display: false },
          border: { display: false },
          afterBuildTicks(s) { s.ticks = tickValues.map(v => ({ value: v })); },
          ticks: {
            color: INK,
            padding: 5,
            labelOffset: 1.5,
            font: { family: FONT, size: 13.9 },
            callback: v => v.toFixed(decimals),
          },
          afterFit(s) { s.width = axisWidth; },
        },
      },
    },
    plugins: [frame, innerTicks],
  });
}

drawPanel("panel-a", "MS4A1", ms4a1, ms4a1Max);
drawPanel("panel-b", "CD8A", cd8a, cd8aMax);
drawColorbar("bar-a", ms4a1Ticks, ms4a1Max, 0, 44);
drawColorbar("bar-b", cd8aTicks, cd8aMax, 1, 36);
</script>
</body>
</html>
